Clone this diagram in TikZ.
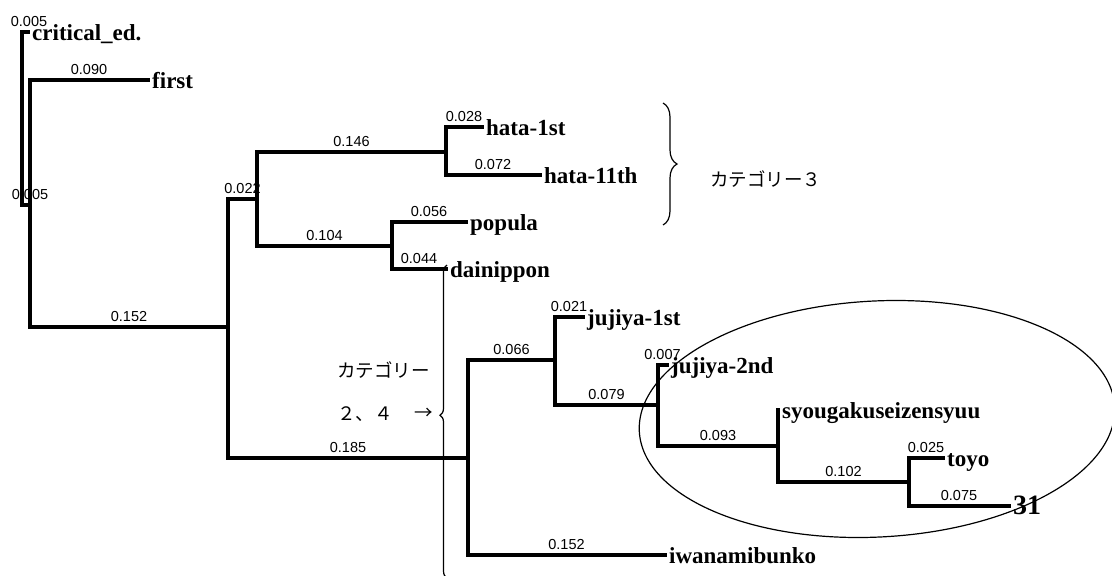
\documentclass[tikz,border=0pt]{standalone}
\usepackage{fontspec}
\setmainfont{Liberation Serif}
\newfontfamily\labfont{Liberation Sans}
\newfontfamily\jpfont{Noto Sans CJK JP}
\usetikzlibrary{decorations.pathreplacing}
\begin{document}
\begin{tikzpicture}[x=1pt,y=-1pt,
  br/.style={line width=3.2pt, line cap=rect, line join=miter},
  leaf/.style={anchor=west, inner xsep=4pt, inner ysep=0pt, text height=16pt, text depth=0pt, font=\fontsize{23}{26}\selectfont\bfseries},
  bl/.style={pos=0.75, above=3.5pt, inner sep=0.5pt, font=\labfont\fontsize{14.5}{16}\selectfont},
  jp/.style={font=\jpfont\fontsize{18.5}{20}\selectfont, inner sep=0pt},
  thinline/.style={line width=1.2pt}]
\useasboundingbox (0,0) rectangle (1112,576);
% internal nodes
\coordinate (root) at (22,118);
\coordinate (n1) at (30,205);
\coordinate (n2) at (228,327);
\coordinate (n3) at (257,199);
\coordinate (n4) at (446,152);
\coordinate (n5) at (392,246);
\coordinate (n6) at (468,458);
\coordinate (n7) at (555,360);
\coordinate (n8) at (658,405);
\coordinate (n9) at (778,446);
\coordinate (n10) at (909,482);
% leaves
\node[leaf] (crit) at (28,32) {critical\_ed.};
\node[leaf] (first) at (148,80) {first};
\node[leaf] (hata1) at (482,127) {hata-1st};
\node[leaf] (hata11) at (540,175) {hata-11th};
\node[leaf] (popula) at (466,222) {popula};
\node[leaf] (dain) at (446,269) {dainippon};
\node[leaf] (juj1) at (583,317) {jujiya-1st};
\node[leaf] (juj2) at (667,365) {jujiya-2nd};
\node[leaf] (syo) at (778,410) {syougakuseizensyuu};
\node[leaf] (toyo) at (943,458) {toyo};
\node[leaf, font=\fontsize{28}{30}\selectfont\bfseries] (t31) at (1009,506) {31};
\node[leaf] (iwa) at (665,555) {iwanamibunko};
% branches
\draw[br] (root) |- (crit.west) node[bl, xshift=4pt] {0.005};
\draw[br] (root) |- (n1) node[bl, xshift=4pt] {0.005};
\draw[br] (n1) |- (first.west) node[bl] {0.090};
\draw[br] (n1) |- (n2) node[bl] {0.152};
\draw[br] (n2) |- (n3) node[bl] {0.022};
\draw[br] (n2) |- (n6) node[bl] {0.185};
\draw[br] (n3) |- (n4) node[bl] {0.146};
\draw[br] (n3) |- (n5) node[bl] {0.104};
\draw[br] (n4) |- (hata1.west) node[bl] {0.028};
\draw[br] (n4) |- (hata11.west) node[bl] {0.072};
\draw[br] (n5) |- (popula.west) node[bl] {0.056};
\draw[br] (n5) |- (dain.west) node[bl] {0.044};
\draw[br] (n6) |- (n7) node[bl] {0.066};
\draw[br] (n6) |- (iwa.west) node[bl] {0.152};
\draw[br] (n7) |- (juj1.west) node[bl] {0.021};
\draw[br] (n7) |- (n8) node[bl] {0.079};
\draw[br] (n8) |- (juj2.west) node[bl] {0.007};
\draw[br] (n8) |- (n9) node[bl] {0.093};
\draw[br] (n9) |- (syo.west);
\draw[br] (n9) |- (n10) node[bl] {0.102};
\draw[br] (n10) |- (toyo.west) node[bl] {0.025};
\draw[br] (n10) |- (t31.west) node[bl] {0.075};
% category 3 brace
\coordinate (b3t) at (663,103);
\coordinate (b3b) at (663,225);
\draw[thinline, decorate, decoration={brace, amplitude=14pt}] (b3t) -- (b3b);
\node[jp, anchor=west] (cat3) at (710,179) {カテゴリー３};
% category 2,4 brace
\coordinate (b2b) at (447,578);
\coordinate (b2t) at (447,265);
\draw[thinline, decorate, decoration={brace, amplitude=7pt, aspect=0.52}] (b2b) -- (b2t);
\node[jp, anchor=west] (cat24a) at (337,370) {カテゴリー};
\node[jp, anchor=west] (cat24b) at (337,414) {２、４};
\node[jp] (arr) at (424,414) {→};
% ellipse
\coordinate (ec) at (877,419);
\draw[thinline, rotate around={3:(ec)}] (ec) ellipse [x radius=238pt, y radius=118pt];
\end{tikzpicture}
\end{document}
